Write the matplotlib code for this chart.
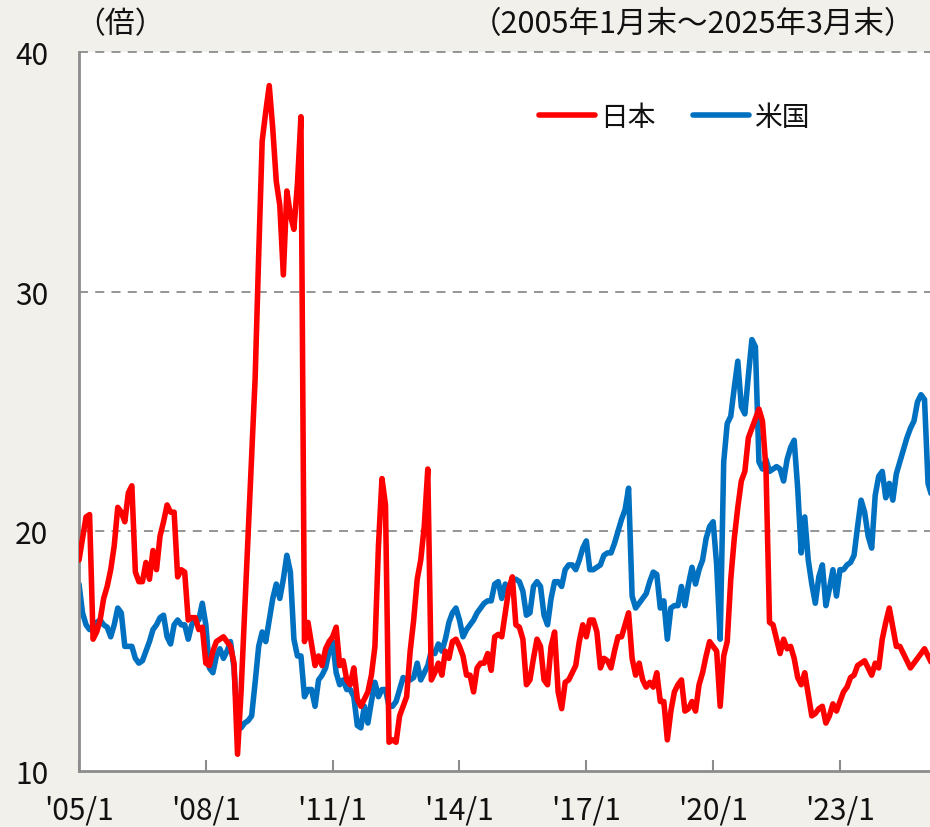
import matplotlib
matplotlib.use("Agg")
import matplotlib.pyplot as plt
import numpy as np

plt.rcParams['font.family'] = ['Noto Sans CJK JP', 'DejaVu Sans']

# monthly PER (times), 2005/01 .. 2025/03
japan_per = [
    18.8, 19.7, 20.6, 20.7, 15.5, 15.8, 16.3, 17.2, 17.7, 18.4, 19.4, 21.0,   # 2005
    20.8, 20.4, 21.6, 21.9, 18.3, 17.9, 17.9, 18.7, 18.0, 19.2, 18.4, 19.8,   # 2006
    20.4, 21.1, 20.8, 20.8, 18.1, 18.4, 18.3, 16.3, 16.4, 16.4, 15.9, 16.0,   # 2007
    14.5, 14.4, 15.0, 15.4, 15.5, 15.6, 15.4, 15.2, 14.5, 10.7, 13.3, 16.6,   # 2008
    19.8, 23.1, 26.4, 31.5, 36.3, 37.5, 38.6, 36.8, 34.6, 33.6, 30.7, 34.2,   # 2009
    33.2, 32.6, 34.5, 37.3, 15.4, 16.2, 15.3, 14.4, 14.8, 14.4, 15.1, 15.4,   # 2010
    15.6, 16.0, 14.4, 14.6, 13.8, 13.6, 14.3, 13.0, 12.7, 13.0, 13.3, 14.0,   # 2011
    15.2, 19.4, 22.2, 21.1, 11.2, 11.3, 11.2, 12.3, 12.7, 13.1, 15.0, 16.3,   # 2012
    18.0, 18.8, 20.2, 22.6, 13.8, 14.1, 14.5, 14.0, 15.0, 14.7, 15.4, 15.5,   # 2013
    15.2, 14.8, 14.0, 14.0, 13.3, 14.3, 14.5, 14.5, 14.9, 14.2, 15.6, 15.7,   # 2014
    15.6, 16.6, 17.6, 18.1, 16.1, 16.0, 15.5, 13.6, 13.8, 14.7, 15.5, 15.2,   # 2015
    13.8, 13.6, 15.2, 15.8, 13.3, 12.6, 13.7, 13.8, 14.1, 14.4, 15.4, 16.1,   # 2016
    15.6, 16.3, 16.3, 15.8, 14.3, 14.7, 14.6, 14.3, 15.0, 15.6, 15.6, 16.1,   # 2017
    16.6, 14.7, 14.0, 14.5, 13.8, 13.5, 13.7, 13.5, 14.1, 12.9, 12.9, 11.3,   # 2018
    12.5, 13.3, 13.6, 13.8, 12.5, 12.6, 12.9, 12.5, 13.6, 14.1, 14.8, 15.4,   # 2019
    15.2, 15.0, 12.7, 14.8, 15.4, 18.0, 19.7, 21.0, 22.1, 22.5, 23.9, 24.3,   # 2020
    24.7, 25.1, 24.6, 22.6, 16.2, 16.1, 15.5, 14.9, 15.5, 15.1, 15.2, 14.7,   # 2021
    13.9, 13.6, 14.1, 13.2, 12.3, 12.4, 12.6, 12.7, 12.0, 12.3, 12.8, 12.5,   # 2022
    12.9, 13.3, 13.5, 13.9, 14.0, 14.4, 14.5, 14.6, 14.3, 14.0, 14.5, 14.3,   # 2023
    15.5, 16.2, 16.8, 16.0, 15.2, 15.2, 14.9, 14.6, 14.3, 14.5, 14.7, 14.9,   # 2024
    15.1, 14.8, 14.5,                                                         # 2025
]
us_per = [
    17.8, 16.6, 16.1, 15.9, 16.0, 16.2, 16.3, 16.1, 16.0, 15.6, 16.1, 16.8,   # 2005
    16.6, 15.2, 15.2, 15.2, 14.7, 14.5, 14.6, 15.0, 15.4, 15.9, 16.1, 16.4,   # 2006
    16.5, 15.6, 15.3, 16.1, 16.3, 16.1, 16.1, 15.5, 16.1, 16.3, 16.3, 17.0,   # 2007
    16.1, 14.3, 14.1, 14.8, 15.1, 14.7, 15.0, 15.4, 14.3, 11.9, 11.8, 12.0,   # 2008
    12.1, 12.3, 13.7, 15.2, 15.8, 15.4, 16.3, 17.2, 17.8, 17.2, 18.0, 19.0,   # 2009
    18.3, 15.5, 14.8, 14.8, 13.1, 13.4, 13.4, 12.7, 13.8, 14.0, 14.3, 15.0,   # 2010
    15.4, 14.1, 13.6, 13.8, 13.4, 13.4, 13.1, 11.9, 11.8, 12.7, 12.0, 12.9,   # 2011
    13.7, 13.1, 13.4, 13.4, 12.7, 12.7, 12.9, 13.4, 13.9, 13.8, 13.8, 13.9,   # 2012
    14.5, 13.8, 14.1, 14.4, 15.0, 14.9, 15.3, 15.0, 15.5, 16.2, 16.6, 16.8,   # 2013
    16.3, 15.6, 15.9, 16.1, 16.3, 16.6, 16.8, 17.0, 17.1, 17.1, 17.8, 17.9,   # 2014
    17.2, 17.8, 17.5, 18.0, 18.0, 17.9, 17.5, 16.5, 16.6, 17.7, 17.9, 17.7,   # 2015
    16.5, 16.1, 17.2, 17.9, 17.9, 17.7, 18.4, 18.6, 18.6, 18.4, 18.8, 19.3,   # 2016
    19.6, 18.4, 18.4, 18.5, 18.6, 19.0, 19.1, 19.1, 19.5, 20.0, 20.5, 20.9,   # 2017
    21.8, 17.3, 16.8, 17.0, 17.2, 17.4, 17.9, 18.3, 18.2, 16.8, 17.1, 15.5,   # 2018
    16.8, 16.9, 16.9, 17.7, 16.9, 17.8, 18.5, 17.8, 18.4, 18.8, 19.7, 20.2,   # 2019
    20.4, 18.6, 15.5, 22.9, 24.5, 24.8, 26.0, 27.1, 25.2, 24.9, 26.5, 28.0,   # 2020
    27.7, 22.9, 22.6, 23.0, 22.5, 22.6, 22.7, 22.6, 22.1, 23.0, 23.5, 23.8,   # 2021
    21.8, 19.1, 20.6, 18.8, 17.8, 17.0, 18.1, 18.6, 16.9, 17.6, 18.4, 17.3,   # 2022
    18.4, 18.4, 18.6, 18.7, 19.0, 20.2, 21.3, 20.8, 19.8, 19.3, 21.5, 22.3,   # 2023
    22.5, 21.4, 22.0, 21.3, 22.4, 22.9, 23.4, 23.9, 24.3, 24.6, 25.4, 25.7,   # 2024
    25.5, 22.0, 21.5,                                                         # 2025
]
series_names = ["日本", "米国"]
tick_years = [2005, 2008, 2011, 2014, 2017, 2020, 2023]

months = np.arange(len(japan_per))
tick_pos = [(y - 2005) * 12 for y in tick_years]
tick_labels = ["'%02d/1" % (y % 100) for y in tick_years]

W, H = 930, 828
fig = plt.figure(figsize=(W / 100, H / 100), dpi=100)
fig.patch.set_facecolor("#f2f0eb")
ax = fig.add_axes([79 / W, (H - 772) / H, (W - 79) / W, (772 - 53) / H])
ax.set_facecolor("white")

for yv in (20, 30, 40):
    ax.axhline(yv, color="#8c8c8c", lw=1.3, ls=(0, (5, 4)), zorder=1, clip_on=False)

ax.plot(months, japan_per, color="#ff0000", lw=4, solid_joinstyle="round",
        solid_capstyle="round", label=series_names[0], zorder=3)
ax.plot(months, us_per, color="#0070c0", lw=4, solid_joinstyle="round",
        solid_capstyle="round", label=series_names[1], zorder=2)

ax.set_ylim(10, 40)
ax.set_xlim(0, (W - 79) / 3.523)
ax.set_yticks([10, 20, 30, 40])
ax.set_xticks(tick_pos)
ax.set_xticklabels(tick_labels)
ax.tick_params(axis="y", length=0, pad=22, labelsize=21.5, labelcolor="#111111")
ax.tick_params(axis="x", direction="in", length=8, width=1.5, color="#8c8c8c",
               pad=17, labelsize=21.5, labelcolor="#111111")

for side in ("top", "right"):
    ax.spines[side].set_visible(False)
for side in ("left", "bottom"):
    ax.spines[side].set_color("#8c8c8c")
    ax.spines[side].set_linewidth(2)

fig.text(120 / W, 1 - 25 / H, "（倍）", ha="center", va="center", fontsize=21.5, color="#111111")
fig.text(915 / W, 1 - 25 / H, "（2005年1月末～2025年3月末）", ha="right", va="center",
         fontsize=22, color="#111111")

leg = ax.legend(loc="center left", bbox_to_anchor=(539 / W, 1 - 118 / H),
                bbox_transform=fig.transFigure, ncol=2, frameon=False,
                fontsize=20, handlelength=2.0, handletextpad=0.2,
                columnspacing=1.35, borderpad=0, borderaxespad=0)
for txt in leg.get_texts():
    txt.set_color("#111111")

fig.savefig("out.png", dpi=100, facecolor=fig.get_facecolor())
